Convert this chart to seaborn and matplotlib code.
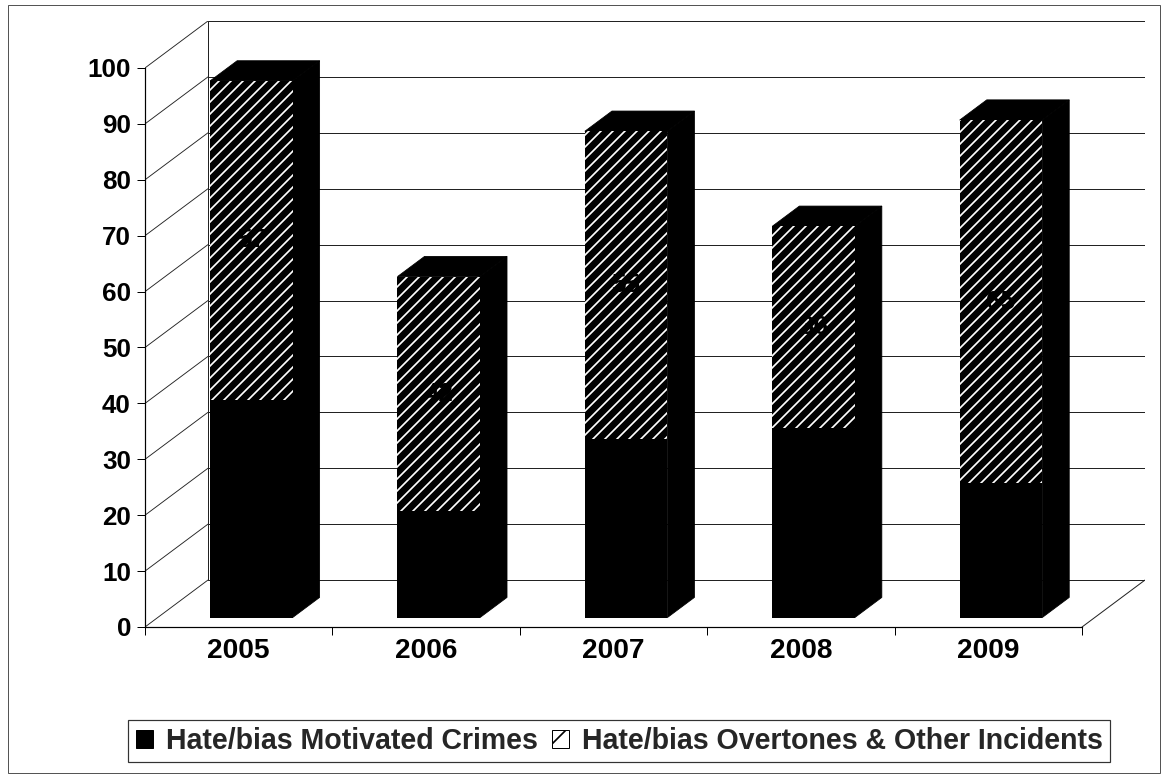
import numpy as np
import pandas as pd
import seaborn as sns
import matplotlib.pyplot as plt
import matplotlib.transforms as mtransforms
from matplotlib.patches import Polygon, Patch, Rectangle

# values
years = ["2005", "2006", "2007", "2008", "2009"]
crimes = [39, 19, 32, 34, 24]          # Hate/bias Motivated Crimes (black)
overtones = [57, 42, 55, 36, 65]       # Hate/bias Overtones & Other Incidents (hatched)
yticks = list(range(0, 101, 10))
legend_labels = ["Hate/bias Motivated Crimes", "Hate/bias Overtones & Other Incidents"]

totals = [c + o for c, o in zip(crimes, overtones)]
df = pd.DataFrame({"year": years, "crimes": crimes, "overtones": overtones, "total": totals})

sns.set_style("ticks")
plt.rcParams["font.family"] = ["Liberation Sans", "DejaVu Sans"]
plt.rcParams["font.weight"] = "bold"
plt.rcParams["hatch.linewidth"] = 1.7

# fake 3d: depth of the plot box (data units) and where the bars sit in it
DX, DY = 0.336, 8.4
F0, F1 = 0.2, 0.63
W = 0.44

DPI = 72
fig = plt.figure(figsize=(1169 / DPI, 777 / DPI), dpi=DPI)
ax = fig.add_axes([145 / 1169, 1 - 627 / 777, 1000 / 1169, 606 / 777])

# walls and floor
gc = "#222222"
for v in yticks:
    ax.plot([-0.5, -0.5 + DX], [v, v + DY], color=gc, lw=0.9, zorder=1)
    ax.plot([-0.5 + DX, 4.5 + DX], [v + DY, v + DY], color=gc, lw=1.0, zorder=1)
ax.plot([-0.5 + DX, -0.5 + DX], [DY, 100 + DY], color=gc, lw=1.0, zorder=1)
ax.plot([4.5, 4.5 + DX], [0, DY], color=gc, lw=1.0, zorder=1)

# bars: full height hatched, crimes drawn over it in black
sns.barplot(data=df, x="year", y="total", width=W, color="black", hatch="//",
            edgecolor="white", linewidth=0, errorbar=None, ax=ax, zorder=3)
n_bars = len(ax.patches)
sns.barplot(data=df, x="year", y="crimes", width=W, color="black",
            linewidth=0, errorbar=None, ax=ax, zorder=4)

front = mtransforms.Affine2D().translate(F0 * DX, F0 * DY) + ax.transData
for p in ax.patches:
    p.set_transform(front)

# side and top faces
for i, p in enumerate(list(ax.patches[:n_bars])):
    x0, w, h = p.get_x(), p.get_width(), p.get_height()
    fx, fy, bx, by = F0 * DX, F0 * DY, F1 * DX, F1 * DY
    side = [(x0 + w + fx, fy), (x0 + w + bx, by), (x0 + w + bx, h + by), (x0 + w + fx, h + fy)]
    top = [(x0 + fx, h + fy), (x0 + w + fx, h + fy), (x0 + w + bx, h + by), (x0 + bx, h + by)]
    ax.add_patch(Polygon(side, closed=True, facecolor="black", edgecolor="black", lw=0.8, zorder=2.5))
    ax.add_patch(Polygon(top, closed=True, facecolor="black", edgecolor="black", lw=0.8, zorder=2.5))
    ax.text(x0 + w / 2 + fx, crimes[i] + overtones[i] / 2 + fy, str(overtones[i]),
            ha="center", va="center", fontsize=26, color="black", zorder=6)

ax.set_xlim(-0.5, 4.5 + DX)
ax.set_ylim(0, 100 + DY)
ax.set_xlabel("")
ax.set_ylabel("")
sns.despine(ax=ax)
ax.spines["left"].set_bounds(0, 100)
ax.spines["bottom"].set_bounds(-0.5, 4.5)
for s in ("left", "bottom"):
    ax.spines[s].set_color("black")
    ax.spines[s].set_linewidth(1.2)

ax.set_yticks(yticks)
ax.set_yticklabels([str(v) for v in yticks])
ax.set_xticks(range(len(years)))
ax.set_xticklabels(years)
ax.set_xticks(np.arange(-0.5, len(years), 1.0), minor=True)
ax.tick_params(axis="y", length=8, width=1, pad=6, labelsize=26, colors="black")
ax.tick_params(axis="x", which="major", length=0, pad=11, labelsize=28, colors="black")
ax.tick_params(axis="x", which="minor", length=8, width=1, colors="black")

handles = [Patch(facecolor="black", edgecolor="black"),
           Patch(facecolor="white", edgecolor="black", hatch="/")]
leg = fig.legend(handles, legend_labels, loc="center", bbox_to_anchor=(619 / 1169, 1 - 741 / 777),
                 ncol=2, frameon=True, fancybox=False, edgecolor="black", fontsize=28.5,
                 handlelength=0.6, handleheight=0.6, handletextpad=0.45, columnspacing=0.5,
                 borderpad=0.25, borderaxespad=0)
leg.get_frame().set_linewidth(1.2)

fig.add_artist(Rectangle((8 / 1169, 4 / 777), 1152 / 1169, 768 / 777, transform=fig.transFigure,
                         fill=False, edgecolor="#555555", lw=1))

fig.savefig("out.png", dpi=DPI)
